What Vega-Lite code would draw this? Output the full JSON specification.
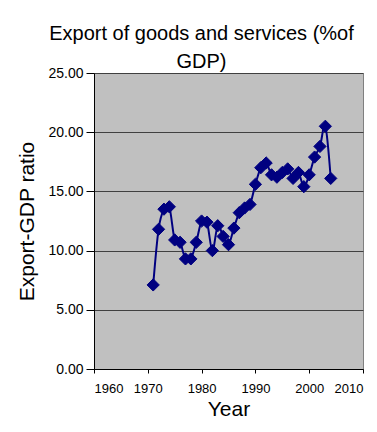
{
  "$schema": "https://vega.github.io/schema/vega-lite/v6.json",
  "width": 269,
  "height": 296,
  "autosize": {"type": "none"},
  "padding": {"left": 94, "top": 73, "right": 14, "bottom": 63},
  "background": "white",
  "title": {
    "text": ["Export of goods and services (%of", "GDP)"],
    "font": "Liberation Sans",
    "fontSize": 20,
    "fontWeight": "normal",
    "color": "black",
    "lineHeight": 28,
    "anchor": "middle",
    "frame": "group",
    "dx": -27,
    "offset": -6
  },
  "data": {
    "values": [
      {"year": 1971, "ratio": 7.1},
      {"year": 1972, "ratio": 11.8},
      {"year": 1973, "ratio": 13.5},
      {"year": 1974, "ratio": 13.7},
      {"year": 1975, "ratio": 10.9},
      {"year": 1976, "ratio": 10.7},
      {"year": 1977, "ratio": 9.3},
      {"year": 1978, "ratio": 9.3},
      {"year": 1979, "ratio": 10.7},
      {"year": 1980, "ratio": 12.5},
      {"year": 1981, "ratio": 12.4},
      {"year": 1982, "ratio": 10.0},
      {"year": 1983, "ratio": 12.1},
      {"year": 1984, "ratio": 11.2},
      {"year": 1985, "ratio": 10.5},
      {"year": 1986, "ratio": 11.9},
      {"year": 1987, "ratio": 13.2},
      {"year": 1988, "ratio": 13.6},
      {"year": 1989, "ratio": 13.9},
      {"year": 1990, "ratio": 15.6},
      {"year": 1991, "ratio": 17.0},
      {"year": 1992, "ratio": 17.4},
      {"year": 1993, "ratio": 16.4},
      {"year": 1994, "ratio": 16.2},
      {"year": 1995, "ratio": 16.6},
      {"year": 1996, "ratio": 16.9},
      {"year": 1997, "ratio": 16.1},
      {"year": 1998, "ratio": 16.6},
      {"year": 1999, "ratio": 15.4},
      {"year": 2000, "ratio": 16.4},
      {"year": 2001, "ratio": 17.9},
      {"year": 2002, "ratio": 18.8},
      {"year": 2003, "ratio": 20.5},
      {"year": 2004, "ratio": 16.1}
    ]
  },
  "encoding": {
    "x": {
      "field": "year",
      "type": "quantitative",
      "scale": {"domain": [1960, 2010], "nice": false, "zero": false},
      "axis": {
        "title": "Year",
        "values": [1960, 1970, 1980, 1990, 2000, 2010],
        "format": "d",
        "grid": false,
        "tickSize": 4,
        "labelPadding": 9,
        "labelFontSize": 13,
        "titleFontSize": 21,
        "titlePadding": 3
      }
    },
    "y": {
      "field": "ratio",
      "type": "quantitative",
      "scale": {"domain": [0, 25], "nice": false},
      "axis": {
        "title": "Export-GDP ratio",
        "values": [0, 5, 10, 15, 20, 25],
        "format": ".2f",
        "grid": true,
        "tickSize": 8,
        "labelPadding": 3,
        "labelFontSize": 14,
        "titleFontSize": 21,
        "titlePadding": 10
      }
    }
  },
  "layer": [
    {
      "mark": {
        "type": "line",
        "interpolate": "cardinal",
        "color": "#000080",
        "strokeWidth": 2
      }
    },
    {
      "mark": {
        "type": "point",
        "shape": "diamond",
        "size": 150,
        "filled": true,
        "color": "#000080",
        "stroke": "#000080",
        "strokeWidth": 1,
        "opacity": 1
      }
    }
  ],
  "config": {
    "font": "Liberation Sans",
    "view": {"fill": "#C0C0C0", "stroke": "#808080", "strokeWidth": 1},
    "axis": {
      "domainColor": "black",
      "domainWidth": 1,
      "tickColor": "black",
      "tickWidth": 1,
      "gridColor": "#404040",
      "gridWidth": 1,
      "gridOpacity": 1,
      "labelFont": "Liberation Sans",
      "labelColor": "black",
      "titleFont": "Liberation Sans",
      "titleFontWeight": "normal",
      "titleColor": "black"
    }
  }
}
